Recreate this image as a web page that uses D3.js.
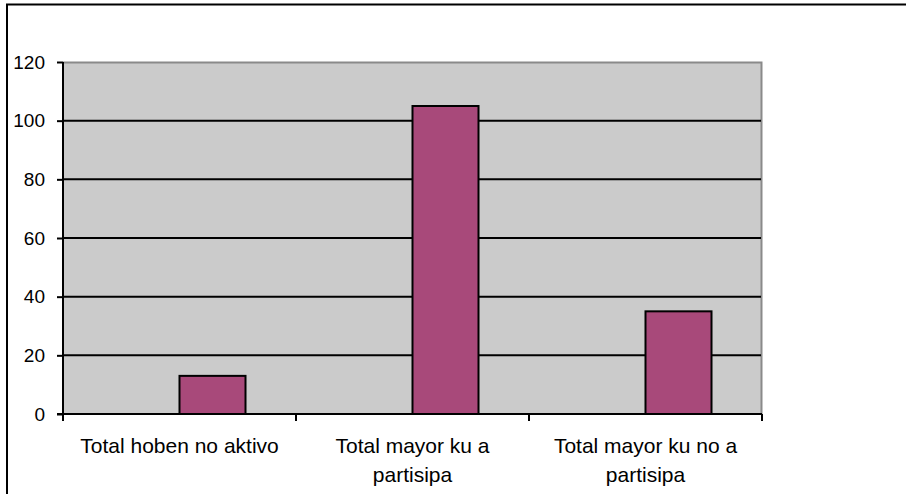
<!DOCTYPE html>
<html>
<head>
<meta charset="utf-8">
<script src="https://cdn.jsdelivr.net/npm/d3@7"></script>
<style>
  body { margin: 0; background: #fff; }
  text { font-family: "Liberation Sans", Arial, sans-serif; fill: #000; }
</style>
</head>
<body>
<div id="chart-area"></div>
<script>
// chart data
const categories = ["Total hoben no aktivo", "Total mayor ku a partisipa", "Total mayor ku no a partisipa"];
const seriesNames = ["empty", "Total"];
const seriesEmpty = [null, null, null];
const seriesTotal = [13, 105, 35];
const yTicks = [0, 20, 40, 60, 80, 100, 120];

let svgW = 906;
let svgH = 494;

let margin = {
  left: 63,
  right: 144,
  top: 62,
  bottom: 80
}

let chartW = svgW - margin.left - margin.right;
let chartH = svgH - margin.top - margin.bottom;

let svg = d3.select("#chart-area")
  .append("svg")
  .attr("width", svgW)
  .attr("height", svgH)

// outer frame (only left and top edges show)
svg.append("path")
  .attr("d", `M7,${svgH} L7,4.5 L${svgW},4.5`)
  .attr("fill", "none")
  .attr("stroke", "#000")
  .attr("stroke-width", 2)

let group = svg.append("g")
  .attr("transform", `translate(${margin.left},${margin.top})`)

const x = d3.scaleBand()
  .domain(categories)
  .range([0, chartW])
  .padding(0)

// two series per category, the first one is empty
const xSub = d3.scaleBand()
  .domain(seriesNames)
  .range([0, x.bandwidth()])
  .paddingOuter(0.765)
  .paddingInner(0)

const y = d3.scaleLinear()
  .domain([0, 120])
  .range([chartH, 0])

// plot area
group.append("rect")
  .attr("width", chartW)
  .attr("height", chartH)
  .attr("fill", "#cbcbcb")

group.append("path")
  .attr("d", `M0,0.5 L${chartW - 0.5},0.5 L${chartW - 0.5},${chartH}`)
  .attr("fill", "none")
  .attr("stroke", "#8a8a8a")
  .attr("stroke-width", 2)

// gridlines
group.selectAll(".grid")
  .data(yTicks.filter(d => d > 0 && d < 120))
  .enter()
  .append("line")
  .attr("class", "grid")
  .attr("x1", 0)
  .attr("x2", chartW - 1)
  .attr("y1", d => y(d))
  .attr("y2", d => y(d))
  .attr("stroke", "#000")
  .attr("stroke-width", 2)

// bars
const rows = categories.map((c, i) => ({
  category: c,
  values: [
    { series: seriesNames[0], value: seriesEmpty[i] },
    { series: seriesNames[1], value: seriesTotal[i] }
  ]
}))

group.selectAll(".cat")
  .data(rows)
  .enter()
  .append("g")
  .attr("transform", d => `translate(${x(d.category)},0)`)
  .selectAll("rect")
  .data(d => d.values.filter(v => v.value != null))
  .enter()
  .append("rect")
  .attr("x", d => xSub(d.series))
  .attr("y", d => y(d.value))
  .attr("width", xSub.bandwidth())
  .attr("height", d => chartH - y(d.value))
  .attr("fill", "#a8497a")
  .attr("stroke", "#000")
  .attr("stroke-width", 2)

// y axis
let yAxis = d3.axisLeft(y)
  .tickValues(yTicks)
  .tickSize(6)
  .tickPadding(12)

let groupY = group.append("g").call(yAxis)
groupY.select(".domain").remove()
groupY.selectAll(".tick line").attr("stroke", "#000").attr("stroke-width", 2)
groupY.selectAll(".tick text").attr("font-size", 19).attr("font-family", "Liberation Sans, Arial, sans-serif")

group.append("line")
  .attr("x1", 0).attr("x2", 0)
  .attr("y1", 0).attr("y2", chartH)
  .attr("stroke", "#000").attr("stroke-width", 2)

// x axis
group.append("line")
  .attr("x1", -6).attr("x2", chartW)
  .attr("y1", chartH).attr("y2", chartH)
  .attr("stroke", "#000").attr("stroke-width", 2)

const bounds = categories.map(c => x(c)).concat([chartW])
group.selectAll(".xtick")
  .data(bounds)
  .enter()
  .append("line")
  .attr("x1", d => d).attr("x2", d => d)
  .attr("y1", chartH).attr("y2", chartH + 7)
  .attr("stroke", "#000").attr("stroke-width", 2)

// category labels, wrapped to the band width
group.selectAll(".xlabel")
  .data(categories)
  .enter()
  .append("text")
  .attr("text-anchor", "middle")
  .attr("font-size", 21)
  .attr("transform", d => `translate(${x(d) + x.bandwidth() / 2},${chartH + 39})`)
  .each(function(d) {
    const t = d3.select(this);
    const words = d.split(" ");
    let lineNo = 0;
    let tspan = t.append("tspan").attr("x", 0).attr("y", 0);
    let line = [];
    words.forEach(w => {
      line.push(w);
      tspan.text(line.join(" "));
      if (tspan.node().getComputedTextLength() > 215 && line.length > 1) {
        line.pop();
        tspan.text(line.join(" "));
        line = [w];
        lineNo += 1;
        tspan = t.append("tspan").attr("x", 0).attr("y", lineNo * 29).text(w);
      }
    });
  })
</script>
</body>
</html>
